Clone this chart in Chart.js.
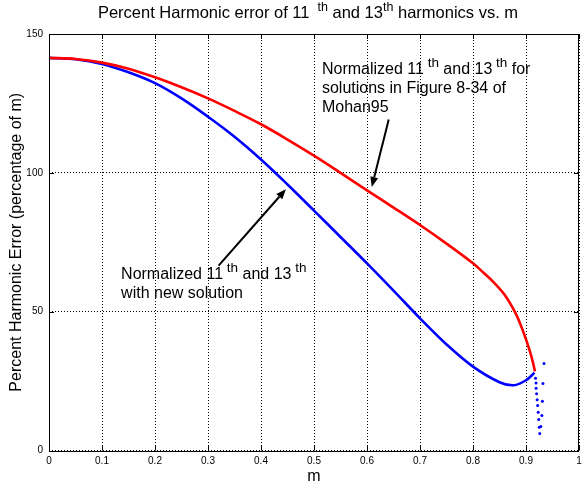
<!DOCTYPE html>
<html><head><meta charset="utf-8">
<style>html,body{margin:0;padding:0;background:#fff;overflow:hidden}</style>
<script src="https://cdn.jsdelivr.net/npm/chart.js@4"></script>
</head><body>
<canvas id="c" width="583" height="487" style="display:block;width:583px;height:487px"></canvas>
<script>
// ---- data ----
const mRed   = [0, 0.05, 0.1, 0.15, 0.2, 0.25, 0.3, 0.35, 0.4, 0.45, 0.5, 0.55, 0.6, 0.65, 0.7, 0.75, 0.8, 0.82, 0.84, 0.86, 0.88, 0.89, 0.9, 0.91, 0.917];
const pctRed = [141.4, 141.0, 139.7, 137.5, 134.4, 130.8, 126.8, 122.3, 117.5, 112.0, 106.2, 100.0, 93.7, 87.5, 81.2, 74.5, 67.4, 64.0, 60.4, 56.0, 49.6, 45.2, 40.0, 34.0, 28.5];
const mBlue   = [0, 0.05, 0.1, 0.15, 0.2, 0.25, 0.3, 0.35, 0.4, 0.45, 0.5, 0.55, 0.6, 0.65, 0.7, 0.75, 0.8, 0.85, 0.877, 0.9, 0.916];
const pctBlue = [141.4, 140.9, 139.2, 136.2, 132.3, 126.8, 120.2, 113.0, 104.8, 95.8, 86.4, 76.9, 67.4, 57.6, 47.6, 38.2, 30.2, 24.6, 23.5, 25.3, 28.0];
const mBlueTail   = [0.918, 0.919, 0.919, 0.920, 0.921, 0.922, 0.923, 0.924, 0.925, 0.926, 0.934, 0.932, 0.931, 0.930, 0.928];
const pctBlueTail = [26.0, 24.3, 22.4, 20.4, 18.3, 16.2, 13.8, 11.2, 8.4, 6.1, 31.3, 24.1, 17.7, 12.6, 8.6];
const xTickValues = [0, 0.1, 0.2, 0.3, 0.4, 0.5, 0.6, 0.7, 0.8, 0.9, 1];
const xTickLabels = ['0', '0.1', '0.2', '0.3', '0.4', '0.5', '0.6', '0.7', '0.8', '0.9', '1'];
const yTickValues = [0, 50, 100, 150];
const yTickLabels = ['0', '50', '100', '150'];

const titleParts = [['Percent Harmonic error of 11 ', 0], [' th', 1], [' and 13', 0], ['th', 1], [' harmonics vs. m', 0]];
const xTitle = 'm';
const yTitle = 'Percent Harmonic Error (percentage of m)';
const note1Lines = [[['Normalized 11', 0], [' th', 1], [' and 13', 0], [' th', 1], [' for', 0]],
                    [['solutions in Figure 8-34 of', 0]],
                    [['Mohan95', 0]]];
const note2Lines = [[['Normalized 11', 0], [' th', 1], [' and 13', 0], [' th', 1]],
                    [['with new solution', 0]]];
// annotation anchors in data units (m, percent)
const note1At = [0.515, 135.5];
const note2At = [0.136, 61.6];
const arrow1 = {from: [0.641, 119.2], to: [0.609, 94.9]};
const arrow2 = {from: [0.320, 66.6], to: [0.447, 94.1]};

const FONT = '"Liberation Sans", Arial, Helvetica, sans-serif';

function pts(xs, ys) { return xs.map((x, i) => ({x: x, y: ys[i]})); }

function drawRich(ctx, x, y, parts, size, supSize, supRise, align) {
  let total = 0;
  parts.forEach(p => { ctx.font = (p[1] ? supSize : size) + 'px ' + FONT; total += ctx.measureText(p[0]).width; });
  let cx = align === 'center' ? x - total / 2 : x;
  ctx.textAlign = 'left';
  ctx.textBaseline = 'alphabetic';
  parts.forEach(p => {
    ctx.font = (p[1] ? supSize : size) + 'px ' + FONT;
    ctx.fillText(p[0], cx, p[1] ? y - supRise : y);
    cx += ctx.measureText(p[0]).width;
  });
}

function drawArrow(ctx, x1, y1, x2, y2) {
  const ang = Math.atan2(y2 - y1, x2 - x1);
  const L = 10, W = 4;
  const bx = x2 - L * Math.cos(ang), by = y2 - L * Math.sin(ang);
  ctx.strokeStyle = '#000'; ctx.fillStyle = '#000'; ctx.lineWidth = 2;
  ctx.beginPath(); ctx.moveTo(x1, y1); ctx.lineTo(bx, by); ctx.stroke();
  ctx.beginPath();
  ctx.moveTo(x2, y2);
  ctx.lineTo(bx + W * Math.sin(ang), by - W * Math.cos(ang));
  ctx.lineTo(bx - W * Math.sin(ang), by + W * Math.cos(ang));
  ctx.closePath(); ctx.fill();
}

const decor = {
  id: 'decor',
  afterDraw(chart) {
    const ctx = chart.ctx, a = chart.chartArea, xs = chart.scales.x, ys = chart.scales.y;
    ctx.save();
    // inward tick marks
    ctx.strokeStyle = '#000'; ctx.lineWidth = 1;
    xTickValues.forEach(v => {
      const px = Math.round(xs.getPixelForValue(v)) + 0.5;
      ctx.beginPath(); ctx.moveTo(px, a.bottom); ctx.lineTo(px, a.bottom - 5);
      ctx.moveTo(px, a.top); ctx.lineTo(px, a.top + 5); ctx.stroke();
    });
    yTickValues.forEach(v => {
      const py = Math.round(ys.getPixelForValue(v)) + 0.5;
      ctx.beginPath(); ctx.moveTo(a.left, py); ctx.lineTo(a.left + 5, py);
      ctx.moveTo(a.right, py); ctx.lineTo(a.right - 5, py); ctx.stroke();
    });
    // box
    ctx.strokeRect(Math.round(a.left) + 0.5, Math.round(a.top) + 0.5, Math.round(a.right - a.left) - 1, Math.round(a.bottom - a.top));
    ctx.fillStyle = '#000';
    // title
    drawRich(ctx, (a.left + a.right) / 2 - 6, 18, titleParts, 16.5, 12.5, 7, 'center');
    // axis titles
    ctx.font = '16px ' + FONT; ctx.textAlign = 'center'; ctx.textBaseline = 'alphabetic';
    ctx.fillText(xTitle, (a.left + a.right) / 2, 481);
    ctx.save(); ctx.translate(21, (a.top + a.bottom) / 2); ctx.rotate(-Math.PI / 2);
    ctx.fillText(yTitle, 0, 0); ctx.restore();
    // annotations
    const n1x = xs.getPixelForValue(note1At[0]), n1y = ys.getPixelForValue(note1At[1]);
    note1Lines.forEach((ln, i) => drawRich(ctx, n1x, n1y + i * 19, ln, 16, 13.5, 7, 'left'));
    const n2x = xs.getPixelForValue(note2At[0]), n2y = ys.getPixelForValue(note2At[1]);
    note2Lines.forEach((ln, i) => drawRich(ctx, n2x, n2y + i * 19, ln, 16, 13.5, 7, 'left'));
    [arrow1, arrow2].forEach(ar => drawArrow(ctx,
      xs.getPixelForValue(ar.from[0]), ys.getPixelForValue(ar.from[1]),
      xs.getPixelForValue(ar.to[0]), ys.getPixelForValue(ar.to[1])));
    ctx.restore();
  }
};

new Chart(document.getElementById('c'), {
  type: 'line',
  data: {
    datasets: [
      {label: 'Mohan95', data: pts(mRed, pctRed), borderColor: '#ff0000', backgroundColor: '#ff0000',
       borderWidth: 2.6, pointRadius: 0, tension: 0.35, fill: false},
      {label: 'new solution', data: pts(mBlue, pctBlue), borderColor: '#0000ff', backgroundColor: '#0000ff',
       borderWidth: 2.6, pointRadius: 0, tension: 0.35, fill: false},
      {label: 'new solution tail', data: pts(mBlueTail, pctBlueTail), showLine: false, borderColor: '#0000ff',
       backgroundColor: '#0000ff', pointRadius: 1.5, borderWidth: 0}
    ]
  },
  options: {
    responsive: false, animation: false, devicePixelRatio: 1,
    layout: {padding: {left: 0, right: 1, top: 34, bottom: 0}},
    plugins: {legend: {display: false}, tooltip: {enabled: false}, title: {display: false}},
    scales: {
      x: {type: 'linear', min: 0, max: 1,
          afterBuildTicks: s => { s.ticks = xTickValues.map(v => ({value: v})); },
          afterFit: s => { s.height = 36.5; s.paddingLeft = 0; s.paddingRight = 0; },
          ticks: {callback: (v, i) => xTickLabels[i], color: '#000', font: {family: FONT, size: 10}, padding: 5, maxRotation: 0, autoSkip: false},
          grid: {color: '#000', lineWidth: 1, drawTicks: false},
          border: {display: false, dash: [1, 2]}},
      y: {type: 'linear', min: 0, max: 150,
          afterBuildTicks: s => { s.ticks = yTickValues.map(v => ({value: v})); },
          afterFit: s => { s.width = 49; s.paddingTop = 0; s.paddingBottom = 0; },
          ticks: {callback: (v, i) => yTickLabels[i], color: '#000', font: {family: FONT, size: 10}, padding: 6, autoSkip: false},
          grid: {color: '#000', lineWidth: 1, drawTicks: false},
          border: {display: false, dash: [1, 2]}}
    }
  },
  plugins: [decor]
});
</script>
</body></html>
